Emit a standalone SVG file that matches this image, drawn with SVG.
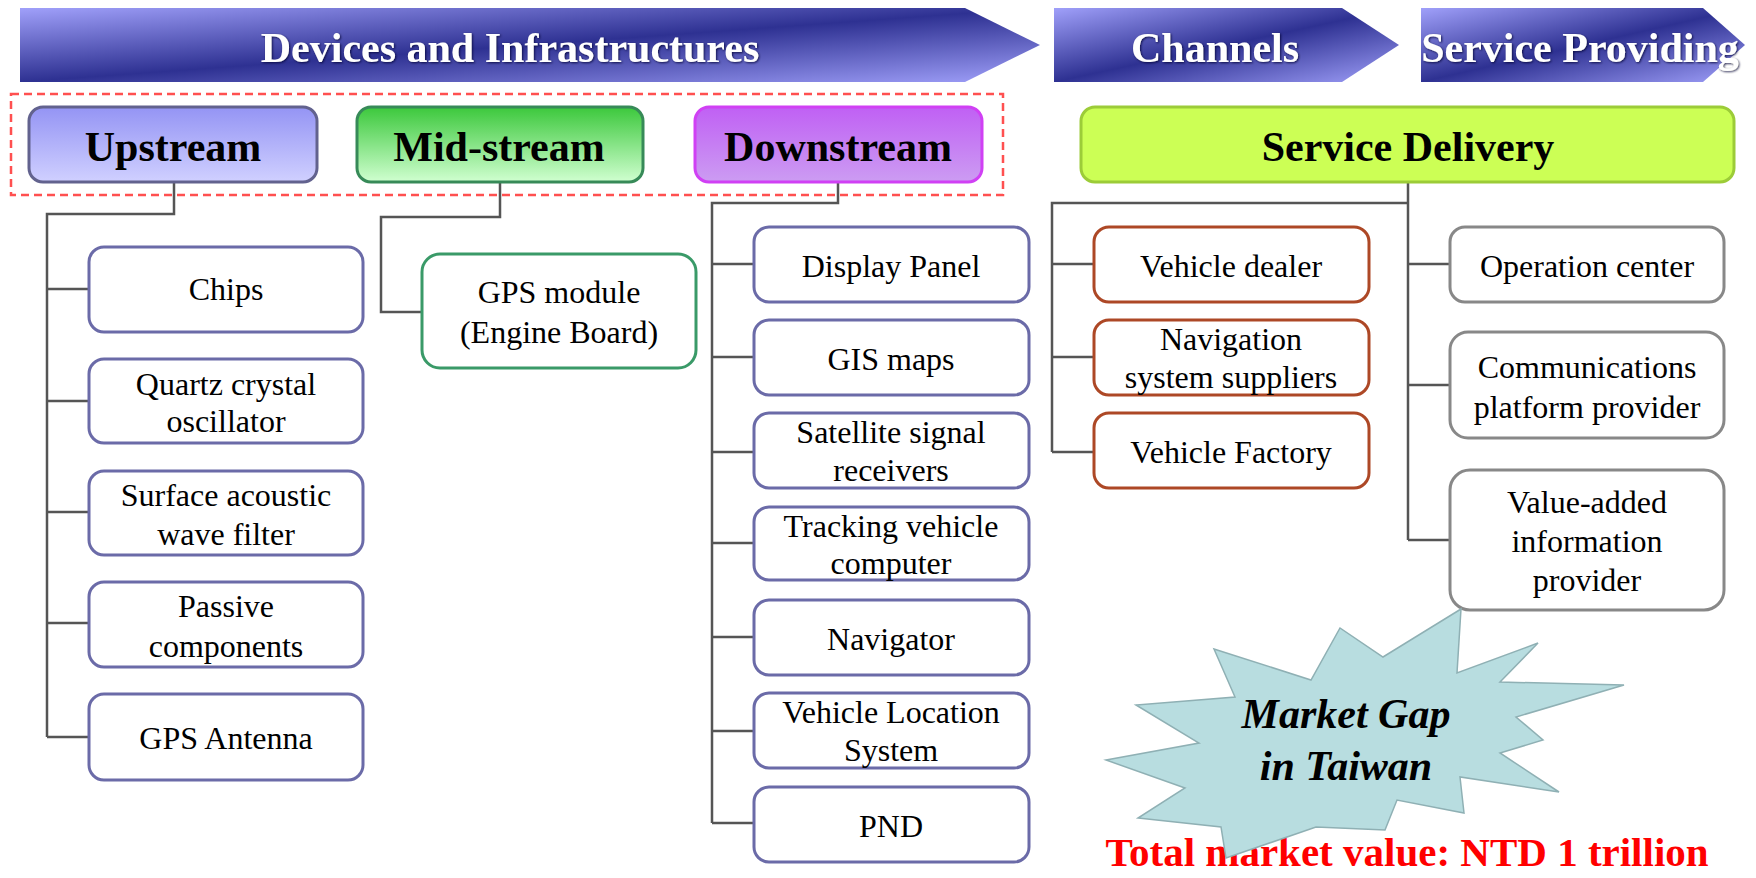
<svg xmlns="http://www.w3.org/2000/svg" width="1756" height="878" viewBox="0 0 1756 878">
<defs>
<linearGradient id="ban" x1="0" y1="0" x2="1" y2="1">
<stop offset="0" stop-color="#a0a0fa"/>
<stop offset="0.5" stop-color="#2e3192"/>
<stop offset="1" stop-color="#a0a0fa"/>
</linearGradient>
<linearGradient id="gUp" x1="0" y1="0" x2="0" y2="1">
<stop offset="0" stop-color="#9494f4"/>
<stop offset="1" stop-color="#d0d0ff"/>
</linearGradient>
<linearGradient id="gMid" x1="0" y1="0" x2="0" y2="1">
<stop offset="0" stop-color="#3cc83c"/>
<stop offset="1" stop-color="#d0ffd0"/>
</linearGradient>
<linearGradient id="gDown" x1="0" y1="0" x2="0" y2="1">
<stop offset="0" stop-color="#c060f4"/>
<stop offset="1" stop-color="#cc9cf2"/>
</linearGradient>
<filter id="sh" x="-5%" y="-20%" width="110%" height="140%">
<feDropShadow dx="1" dy="1" stdDeviation="1" flood-color="#000033" flood-opacity="0.8"/>
</filter>
</defs>
<style>
.ban{fill:url(#ban)}
.bt{font-family:"Liberation Serif",serif;font-weight:bold;font-size:42px;fill:#fff;text-anchor:middle;filter:url(#sh)}
.hd{font-family:"Liberation Serif",serif;font-weight:bold;font-size:42px;fill:#000;text-anchor:middle}
.tx{font-family:"Liberation Serif",serif;font-size:32px;fill:#000;text-anchor:middle}
.bx{fill:#fff;stroke:#6b6ba8;stroke-width:3}
.gm{fill:#fff;stroke:#3a9a68;stroke-width:3}
.ch{fill:#fff;stroke:#ad4826;stroke-width:3}
.sv{fill:#fff;stroke:#888;stroke-width:3}
.cn{fill:none;stroke:#555;stroke-width:2.5}
</style>
<rect width="1756" height="878" fill="#fff"/>

<g id="banners">
<polygon class="ban" points="20,8 965,8 1040,45 965,82 20,82"/>
<text class="bt" x="510" y="62">Devices and Infrastructures</text>
<polygon class="ban" points="1054,8 1342,8 1399,45 1342,82 1054,82"/>
<text class="bt" x="1215" y="62">Channels</text>
<polygon class="ban" points="1421,8 1703,8 1745,45 1703,82 1421,82"/>
<text class="bt" x="1580" y="62">Service Providing</text>
</g>

<rect id="group-frame" x="11" y="94" width="992" height="101" fill="none" stroke="#ff5050" stroke-width="2.5" stroke-dasharray="8 5"/>

<g id="connectors">
<path class="cn" d="M174 183V214H47V737M47 289H89M47 401H89M47 512H89M47 623H89M47 737H89"/>
<path class="cn" d="M500 181V217H381V312H422"/>
<path class="cn" d="M838 183V203H712V823M712 264H754M712 357H754M712 452H754M712 543H754M712 637H754M712 731H754M712 823H754"/>
<path class="cn" d="M1408 183V540M1408 203H1052V452M1052 264H1094M1052 357H1094M1052 452H1094M1408 264H1450M1408 385H1450M1408 540H1450"/>
</g>

<g id="upstream">
<rect x="29" y="107" width="288" height="75" rx="14" fill="url(#gUp)" stroke="#62628e" stroke-width="3"/>
<text class="hd" x="173" y="161">Upstream</text>
</g>
<g id="midstream">
<rect x="357" y="107" width="286" height="75" rx="14" fill="url(#gMid)" stroke="#378a58" stroke-width="3"/>
<text class="hd" x="499" y="161">Mid-stream</text>
</g>
<g id="downstream">
<rect x="695" y="107" width="287" height="75" rx="14" fill="url(#gDown)" stroke="#d040f4" stroke-width="3"/>
<text class="hd" x="838" y="161">Downstream</text>
</g>
<g id="service-delivery">
<rect x="1081" y="107" width="653" height="75" rx="14" fill="#ccff55" stroke="#9ccc38" stroke-width="3"/>
<text class="hd" x="1408" y="161">Service Delivery</text>
</g>

<g id="chips"><rect class="bx" x="89" y="247" width="274" height="85" rx="15"/><text class="tx" x="226" y="300">Chips</text></g>
<g id="quartz"><rect class="bx" x="89" y="359" width="274" height="84" rx="15"/><text class="tx" x="226" y="395">Quartz crystal</text><text class="tx" x="226" y="432">oscillator</text></g>
<g id="saw"><rect class="bx" x="89" y="471" width="274" height="84" rx="15"/><text class="tx" x="226" y="506">Surface acoustic</text><text class="tx" x="226" y="545">wave filter</text></g>
<g id="passive"><rect class="bx" x="89" y="582" width="274" height="85" rx="15"/><text class="tx" x="226" y="617">Passive</text><text class="tx" x="226" y="657">components</text></g>
<g id="antenna"><rect class="bx" x="89" y="694" width="274" height="86" rx="15"/><text class="tx" x="226" y="749">GPS Antenna</text></g>

<g id="gps-module"><rect class="gm" x="422" y="254" width="274" height="114" rx="18"/><text class="tx" x="559" y="303">GPS module</text><text class="tx" x="559" y="343">(Engine Board)</text></g>

<g id="display"><rect class="bx" x="754" y="227" width="275" height="75" rx="15"/><text class="tx" x="891" y="277">Display Panel</text></g>
<g id="gis"><rect class="bx" x="754" y="320" width="275" height="75" rx="15"/><text class="tx" x="891" y="370">GIS maps</text></g>
<g id="satellite"><rect class="bx" x="754" y="413" width="275" height="75" rx="15"/><text class="tx" x="891" y="443">Satellite signal</text><text class="tx" x="891" y="481">receivers</text></g>
<g id="tracking"><rect class="bx" x="754" y="507" width="275" height="73" rx="15"/><text class="tx" x="891" y="537">Tracking vehicle</text><text class="tx" x="891" y="574">computer</text></g>
<g id="navigator"><rect class="bx" x="754" y="600" width="275" height="75" rx="15"/><text class="tx" x="891" y="650">Navigator</text></g>
<g id="vls"><rect class="bx" x="754" y="693" width="275" height="75" rx="15"/><text class="tx" x="891" y="723">Vehicle Location</text><text class="tx" x="891" y="761">System</text></g>
<g id="pnd"><rect class="bx" x="754" y="787" width="275" height="75" rx="15"/><text class="tx" x="891" y="837">PND</text></g>

<g id="dealer"><rect class="ch" x="1094" y="227" width="275" height="75" rx="15"/><text class="tx" x="1231" y="277">Vehicle dealer</text></g>
<g id="nav-suppliers"><rect class="ch" x="1094" y="320" width="275" height="75" rx="15"/><text class="tx" x="1231" y="350">Navigation</text><text class="tx" x="1231" y="388">system suppliers</text></g>
<g id="factory"><rect class="ch" x="1094" y="413" width="275" height="75" rx="15"/><text class="tx" x="1231" y="463">Vehicle Factory</text></g>

<g id="operation"><rect class="sv" x="1450" y="227" width="274" height="75" rx="15"/><text class="tx" x="1587" y="277">Operation center</text></g>
<g id="comm"><rect class="sv" x="1450" y="332" width="274" height="106" rx="18"/><text class="tx" x="1587" y="378">Communications</text><text class="tx" x="1587" y="418">platform provider</text></g>
<g id="value-added"><rect class="sv" x="1450" y="470" width="274" height="140" rx="20"/><text class="tx" x="1587" y="513">Value-added</text><text class="tx" x="1587" y="552">information</text><text class="tx" x="1587" y="591">provider</text></g>

<text x="1407" y="866" font-family="Liberation Serif, serif" font-weight="bold" font-size="41" fill="#ff0000" text-anchor="middle">Total market value: NTD 1 trillion</text>

<g id="market-gap">
<polygon points="1461,609 1457,673 1538,643 1500,682 1624,685 1516,717 1543,740 1500,753 1559,792 1460,777 1464,813 1397,800 1385,830 1316,827 1226,858 1221,827 1138,818 1185,788 1106,760 1199,743 1136,705 1235,697 1214,649 1311,680 1340,628 1383,657" fill="#b8dde0" stroke="#8fb0b4" stroke-width="1.5"/>
<text x="1346" y="728" font-family="Liberation Serif, serif" font-weight="bold" font-style="italic" font-size="42" fill="#000" text-anchor="middle">Market Gap</text>
<text x="1346" y="780" font-family="Liberation Serif, serif" font-weight="bold" font-style="italic" font-size="42" fill="#000" text-anchor="middle">in Taiwan</text>
</g>
</svg>
